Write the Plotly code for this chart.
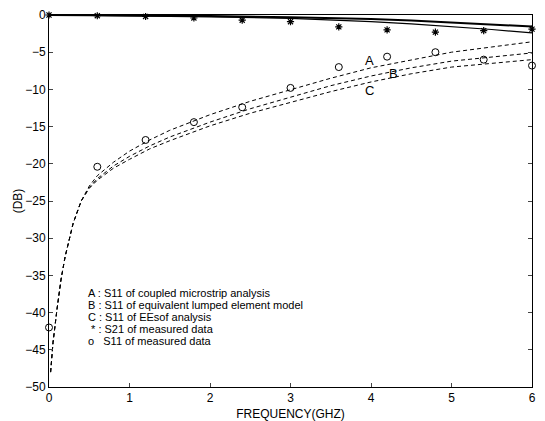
import plotly.graph_objects as go

# Measured data (frequency in GHz, dB)
meas_freq = [0.0, 0.6, 1.2, 1.8, 2.4, 3.0, 3.6, 4.2, 4.8, 5.4, 6.0]
s21_meas = [0.0, -0.1, -0.2, -0.4, -0.7, -0.9, -1.6, -2.0, -2.3, -2.1, -1.9]
s11_meas = [-42.0, -20.4, -16.8, -14.4, -12.4, -9.8, -7.0, -5.6, -5.0, -6.0, -6.8]

# Analysis curves
ana_freq = [0.02, 0.05, 0.1, 0.15, 0.2, 0.3, 0.4, 0.5, 0.6, 0.8, 1.0, 1.25, 1.5,
            2.0, 2.5, 3.0, 3.5, 4.0, 4.5, 5.0, 5.5, 6.0]
s11_A = [-48, -44, -39.5, -35.5, -32.5, -28, -25, -23, -21.6, -19.8, -18.3, -16.8, -15.5,
         -13.4, -11.6, -10.0, -8.5, -7.1, -6.0, -5.0, -4.3, -3.6]
s11_B = [-48, -44, -39.5, -35.5, -32.5, -28, -25, -23.2, -22, -20.3, -19.0, -17.6, -16.4,
         -14.4, -12.6, -11.0, -9.5, -8.2, -7.1, -6.2, -5.6, -5.1]
s11_C = [-48, -44, -39.5, -35.5, -32.5, -28, -25, -23.3, -22.2, -20.6, -19.4, -18.0, -16.9,
         -14.9, -13.2, -11.7, -10.3, -9.0, -7.9, -7.0, -6.5, -6.0]

s21_freq = [0, 1, 2, 3, 3.5, 4, 4.5, 5, 5.5, 6]
s21_a = [0, -0.05, -0.15, -0.3, -0.4, -0.55, -0.75, -1.0, -1.25, -1.55]
s21_b = [0, -0.1, -0.25, -0.45, -0.65, -0.9, -1.2, -1.55, -1.95, -2.4]

curve_labels = ["A", "B", "C"]
label_x = [3.98, 4.28, 3.98]
label_y = [-6.1, -7.9, -10.1]

legend_lines = [
    "A : S11 of coupled microstrip analysis",
    "B : S11 of equivalent lumped element model",
    "C : S11 of EEsof analysis",
    " * : S21 of measured data",
    "o   S11 of measured data",
]

x_ticks = [0, 1, 2, 3, 4, 5, 6]
y_ticks = [0, -5, -10, -15, -20, -25, -30, -35, -40, -45, -50]

fig = go.Figure()
for ys in (s11_A, s11_B, s11_C):
    fig.add_trace(go.Scatter(x=ana_freq, y=ys, mode="lines",
                             line=dict(color="black", width=1, dash="4px,3px"),
                             showlegend=False))
for ys, w in ((s21_a, 2), (s21_b, 1.2)):
    fig.add_trace(go.Scatter(x=s21_freq, y=ys, mode="lines",
                             line=dict(color="black", width=w), showlegend=False))
fig.add_trace(go.Scatter(x=meas_freq, y=s21_meas, mode="markers", cliponaxis=False,
                         marker=dict(symbol="asterisk-open", size=6, color="black",
                                     line=dict(color="black", width=1.2)),
                         showlegend=False))
fig.add_trace(go.Scatter(x=meas_freq, y=s11_meas, mode="markers", cliponaxis=False,
                         marker=dict(symbol="circle-open", size=7, color="black",
                                     line=dict(color="black", width=1)),
                         showlegend=False))

for t, x, y in zip(curve_labels, label_x, label_y):
    fig.add_annotation(x=x, y=y, text=t, showarrow=False,
                       font=dict(size=13, color="black"))

for i, t in enumerate(legend_lines):
    fig.add_annotation(x=0.47, y=-37.4 - i * 1.62, text=t, showarrow=False,
                       xanchor="left", yanchor="middle", borderpad=0,
                       font=dict(size=11, color="black"))

fig.update_layout(
    width=545, height=421,
    margin=dict(l=49, r=13, t=15, b=34, autoexpand=False),
    paper_bgcolor="white", plot_bgcolor="white",
    font=dict(family="Liberation Sans, Arial, sans-serif", color="black", size=12),
    xaxis=dict(range=[0, 6], tickvals=x_ticks, ticks="inside", ticklen=4,
               showline=True, linecolor="black", linewidth=1, mirror=True,
               showgrid=False, zeroline=False, automargin=False,
               title=dict(text="FREQUENCY(GHZ)", standoff=14, font=dict(size=12))),
    yaxis=dict(range=[-50, 0], tickvals=y_ticks, ticks="inside", ticklen=4,
               showline=True, linecolor="black", linewidth=1, mirror="ticks",
               showgrid=False, zeroline=False,
               title=dict(text="(DB)", standoff=0, font=dict(size=12))),
)

fig.write_html("out.html")
